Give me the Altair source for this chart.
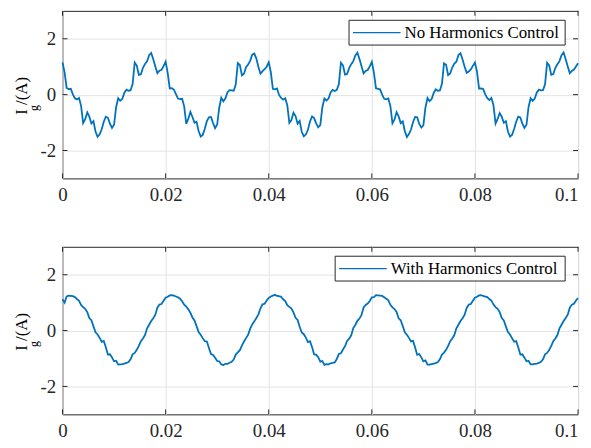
import altair as alt
import numpy as np
import pandas as pd

# sample times (s), 0.4 ms grid from 0 to 0.1 s
time_s = [round(k * 0.0004, 4) for k in range(251)]

ig_no_control = [
    1.15, 0.80, 0.24, 0.20, 0.21, 0.01, -0.13, -0.17, -0.12, -0.40,
    -1.02, -0.88, -0.64, -0.79, -1.03, -0.95, -1.32, -1.51, -1.42, -1.24,
    -0.97, -0.79, -0.83, -1.04, -1.19, -1.08, -0.44, -0.13, -0.22, -0.15,
    0.07, 0.18, 0.14, 0.16, 0.38, 1.15, 1.04, 0.71, 0.73, 0.96,
    1.10, 1.19, 1.41, 1.49, 1.27, 1.01, 0.77, 0.86, 0.89, 1.02,
    1.18, 0.78, 0.22, 0.23, 0.18, 0.02, -0.14, -0.16, -0.15, -0.42,
    -1.05, -0.86, -0.62, -0.80, -1.01, -0.97, -1.30, -1.50, -1.44, -1.22,
    -0.95, -0.81, -0.80, -1.02, -1.20, -1.07, -0.47, -0.11, -0.24, -0.13,
    0.09, 0.16, 0.15, 0.14, 0.36, 1.13, 1.06, 0.69, 0.75, 0.98,
    1.08, 1.21, 1.43, 1.47, 1.29, 0.99, 0.75, 0.84, 0.91, 1.00,
    1.16, 0.81, 0.21, 0.19, 0.22, -0.01, -0.12, -0.18, -0.13, -0.38,
    -1.01, -0.91, -0.65, -0.77, -1.04, -0.94, -1.33, -1.49, -1.43, -1.26,
    -0.96, -0.78, -0.84, -1.03, -1.17, -1.09, -0.45, -0.14, -0.21, -0.14,
    0.08, 0.17, 0.13, 0.17, 0.37, 1.14, 1.05, 0.72, 0.74, 0.95,
    1.09, 1.20, 1.40, 1.50, 1.28, 1.02, 0.76, 0.85, 0.88, 1.01,
    1.17, 0.79, 0.23, 0.21, 0.19, 0.00, -0.15, -0.17, -0.14, -0.41,
    -1.03, -0.89, -0.63, -0.78, -1.02, -0.96, -1.31, -1.52, -1.41, -1.25,
    -0.98, -0.80, -0.81, -1.05, -1.18, -1.10, -0.46, -0.12, -0.23, -0.16,
    0.06, 0.19, 0.14, 0.15, 0.39, 1.12, 1.07, 0.70, 0.76, 0.97,
    1.11, 1.18, 1.42, 1.48, 1.26, 1.00, 0.78, 0.83, 0.90, 1.03,
    1.15, 0.82, 0.22, 0.22, 0.20, 0.01, -0.13, -0.19, -0.12, -0.39,
    -1.04, -0.87, -0.66, -0.79, -1.01, -0.95, -1.32, -1.50, -1.44, -1.23,
    -0.97, -0.79, -0.82, -1.04, -1.19, -1.08, -0.44, -0.13, -0.22, -0.14,
    0.08, 0.18, 0.15, 0.16, 0.37, 1.14, 1.05, 0.71, 0.74, 0.96,
    1.09, 1.20, 1.41, 1.51, 1.27, 1.01, 0.77, 0.85, 0.90, 1.01,
    1.12,
]

ig_with_control = [
    1.12, 1.00, 1.22, 1.25, 1.24, 1.23, 1.20, 1.13, 1.07, 0.92,
    0.84, 0.78, 0.66, 0.45, 0.37, 0.15, -0.06, -0.14, -0.26, -0.40,
    -0.37, -0.60, -0.86, -0.85, -0.96, -1.10, -1.08, -1.22, -1.21, -1.20,
    -1.18, -1.16, -1.13, -1.03, -0.85, -0.80, -0.69, -0.55, -0.38, -0.28,
    -0.16, 0.08, 0.21, 0.34, 0.44, 0.57, 0.82, 0.93, 0.95, 1.07,
    1.18, 1.21, 1.26, 1.27, 1.25, 1.22, 1.19, 1.14, 1.05, 0.93,
    0.86, 0.76, 0.64, 0.47, 0.36, 0.16, -0.05, -0.15, -0.27, -0.38,
    -0.39, -0.62, -0.84, -0.87, -0.97, -1.09, -1.10, -1.21, -1.23, -1.19,
    -1.19, -1.15, -1.12, -1.04, -0.86, -0.78, -0.70, -0.54, -0.39, -0.27,
    -0.15, 0.07, 0.22, 0.33, 0.45, 0.58, 0.80, 0.94, 0.96, 1.08,
    1.17, 1.22, 1.25, 1.28, 1.24, 1.23, 1.21, 1.12, 1.06, 0.91,
    0.85, 0.79, 0.65, 0.46, 0.38, 0.14, -0.07, -0.13, -0.25, -0.41,
    -0.38, -0.59, -0.85, -0.86, -0.95, -1.11, -1.09, -1.23, -1.20, -1.21,
    -1.17, -1.16, -1.14, -1.02, -0.84, -0.81, -0.68, -0.56, -0.37, -0.29,
    -0.17, 0.09, 0.20, 0.35, 0.43, 0.56, 0.83, 0.92, 0.97, 1.06,
    1.19, 1.20, 1.27, 1.26, 1.25, 1.24, 1.19, 1.14, 1.08, 0.92,
    0.83, 0.77, 0.67, 0.44, 0.37, 0.16, -0.06, -0.15, -0.26, -0.39,
    -0.37, -0.61, -0.87, -0.84, -0.96, -1.10, -1.07, -1.22, -1.22, -1.20,
    -1.18, -1.17, -1.13, -1.03, -0.86, -0.79, -0.69, -0.55, -0.38, -0.28,
    -0.16, 0.08, 0.21, 0.34, 0.44, 0.57, 0.81, 0.93, 0.95, 1.07,
    1.18, 1.21, 1.26, 1.27, 1.24, 1.22, 1.20, 1.13, 1.07, 0.93,
    0.84, 0.78, 0.66, 0.45, 0.36, 0.15, -0.05, -0.14, -0.27, -0.40,
    -0.38, -0.60, -0.86, -0.85, -0.97, -1.10, -1.08, -1.21, -1.21, -1.19,
    -1.18, -1.16, -1.12, -1.03, -0.85, -0.80, -0.70, -0.55, -0.38, -0.28,
    -0.16, 0.08, 0.21, 0.34, 0.45, 0.57, 0.82, 0.93, 0.96, 1.08,
    1.16,
]

x_ticks = [0, 0.02, 0.04, 0.06, 0.08, 0.1]
y_ticks = [-2, 0, 2]
series_names = ["No Harmonics Control", "With Harmonics Control"]

LINE_COLOR = "#0072BD"
AX_COLOR = "#262626"
FONT = "Liberation Serif"
W, H = 520, 169

label_expr = "replace(format(datum.value, '~g'), '\u2212', '-')"
x_axis = alt.Axis(
    values=x_ticks, title=None, labelExpr=label_expr, labelPadding=7, labelFlush=False,
    labelAlign={"condition": {"test": "datum.value >= 0.1", "value": "right"}, "value": "center"},
)
y_axis = alt.Axis(values=y_ticks, title=None, labelExpr=label_expr, labelPadding=7)
x_scale = alt.Scale(domain=[0, 0.1], nice=False, zero=False)
y_scale = alt.Scale(domain=[-3, 3], nice=False)

xtick_df = pd.DataFrame({"t": x_ticks})
ytick_df = pd.DataFrame({"i": y_ticks})
one_df = pd.DataFrame({"a": [0]})


def panel(values, name, box_left, text_x):
    df = pd.DataFrame({"t": time_s, "i": values})
    line = alt.Chart(df).mark_line(strokeWidth=1.8, color=LINE_COLOR).encode(
        x=alt.X("t:Q", scale=x_scale, axis=x_axis),
        y=alt.Y("i:Q", scale=y_scale, axis=y_axis),
    )
    tl = alt.Chart(ytick_df).mark_rule(color=AX_COLOR).encode(
        y=alt.Y("i:Q", scale=y_scale, axis=y_axis), x=alt.value(0), x2=alt.value(5))
    tr = alt.Chart(ytick_df).mark_rule(color=AX_COLOR).encode(
        y=alt.Y("i:Q", scale=y_scale, axis=y_axis), x=alt.value(W - 5), x2=alt.value(W))
    tb = alt.Chart(xtick_df).mark_rule(color=AX_COLOR).encode(
        x=alt.X("t:Q", scale=x_scale, axis=x_axis), y=alt.value(H - 5), y2=alt.value(H))
    tt = alt.Chart(xtick_df).mark_rule(color=AX_COLOR).encode(
        x=alt.X("t:Q", scale=x_scale, axis=x_axis), y=alt.value(0), y2=alt.value(5))
    # legend box
    lg_box = alt.Chart(one_df).mark_rect(fill="#ffffff", stroke=AX_COLOR, strokeWidth=1).encode(
        x=alt.value(box_left), x2=alt.value(507), y=alt.value(9.5), y2=alt.value(34.5))
    lg_line = alt.Chart(one_df).mark_rule(color=LINE_COLOR, strokeWidth=1.2).encode(
        x=alt.value(box_left + 4), x2=alt.value(box_left + 52), y=alt.value(22))
    lg_text = alt.Chart(one_df).mark_text(
        text=name, align="left", baseline="middle", font=FONT, fontSize=17, color="#000000"
    ).encode(x=alt.value(text_x), y=alt.value(22.5))
    # y title with subscript
    t_I = alt.Chart(one_df).mark_text(
        text="I", angle=270, font=FONT, fontSize=17, align="center", baseline="middle", color="#000000"
    ).encode(x=alt.value(-41), y=alt.value(102))
    t_g = alt.Chart(one_df).mark_text(
        text="g", angle=270, font=FONT, fontSize=12, align="center", baseline="middle", color="#000000"
    ).encode(x=alt.value(-29), y=alt.value(98))
    t_A = alt.Chart(one_df).mark_text(
        text="/(A)", angle=270, font=FONT, fontSize=17, align="left", baseline="middle", color="#000000"
    ).encode(x=alt.value(-41), y=alt.value(95))
    return alt.layer(line, tl, tr, tb, tt, lg_box, lg_line, lg_text, t_I, t_g, t_A).properties(
        width=W, height=H)


top = panel(ig_no_control, series_names[0], 289, 345)
bottom = panel(ig_with_control, series_names[1], 275, 331)

chart = (
    alt.vconcat(top, bottom, spacing=41)
    .properties(padding={"left": 4, "top": 0, "right": 0, "bottom": 0}, background="#ffffff")
    .configure_view(stroke=AX_COLOR, strokeWidth=1)
    .configure_axis(
        grid=True,
        gridColor="#e3e3e3",
        gridWidth=1,
        domain=False,
        ticks=False,
        labelFont=FONT,
        labelFontSize=19,
        labelColor=AX_COLOR,
    )
)

chart.save("out.html", embed_options={"renderer": "svg", "actions": False})
